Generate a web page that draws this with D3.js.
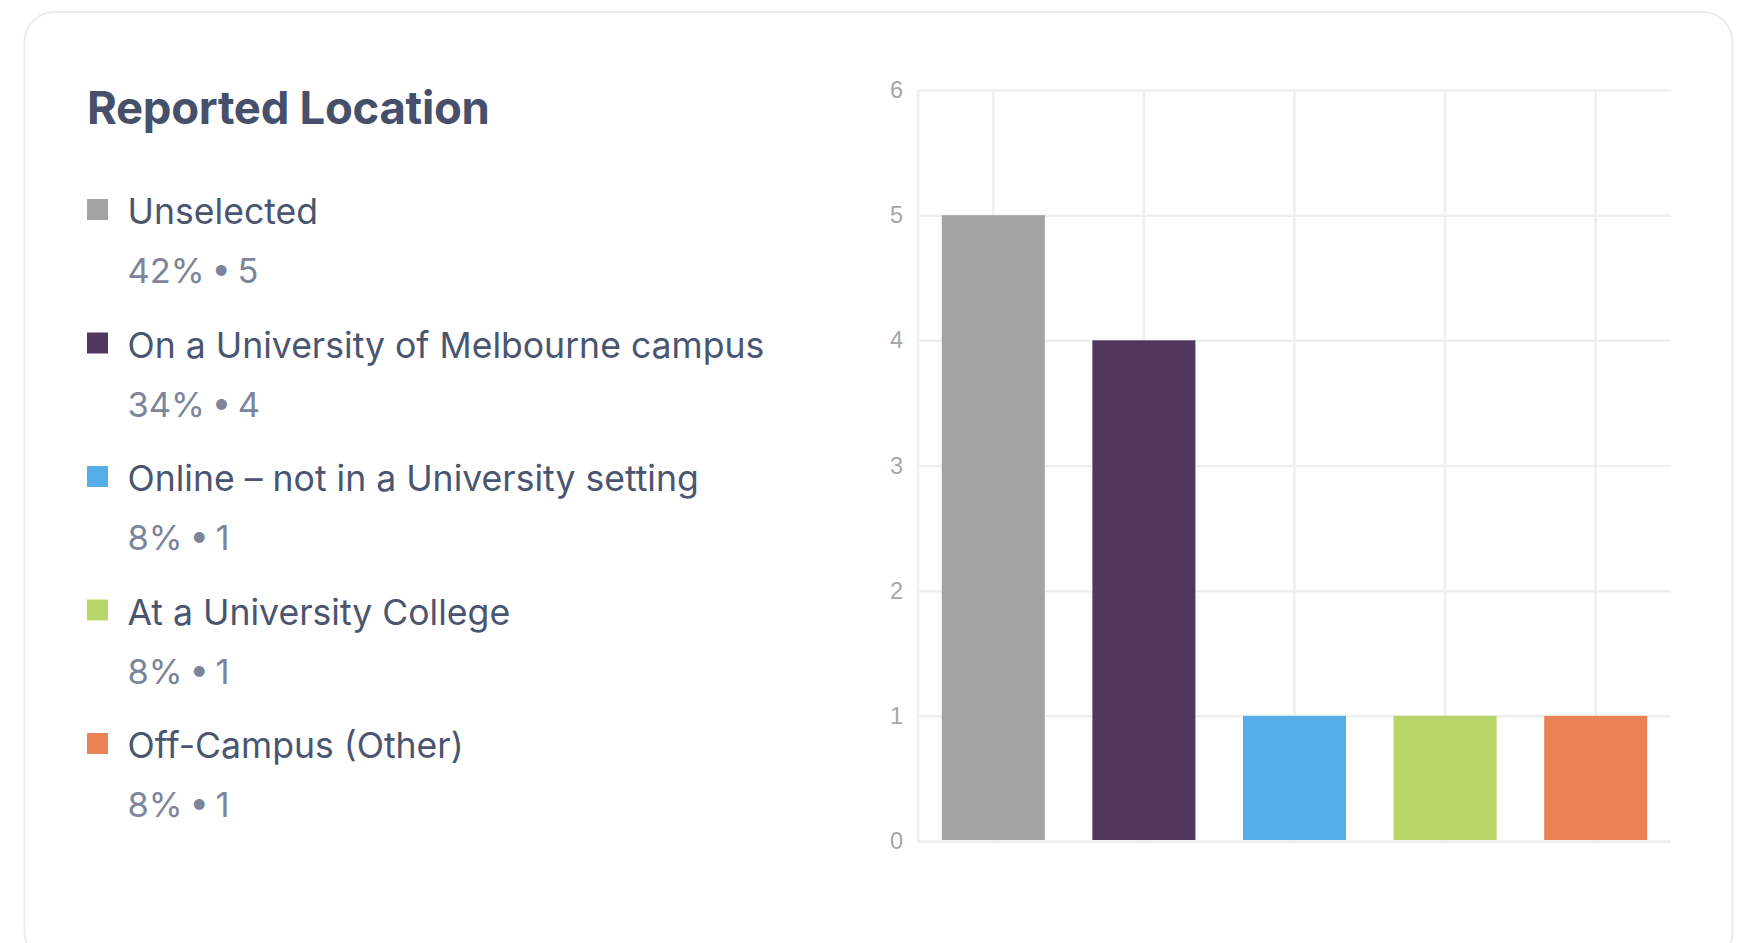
<!DOCTYPE html>
<html>
<head>
<meta charset="utf-8">
<script src="https://cdn.jsdelivr.net/npm/d3@7"></script>
<style>
  html, body { margin: 0; padding: 0; background: #ffffff; overflow: hidden; }
</style>
</head>
<body>
<div class="chart"></div>
<script>
// chart values
var categories = [
  "Unselected",
  "On a University of Melbourne campus",
  "Online – not in a University setting",
  "At a University College",
  "Off-Campus (Other)"
];
var counts = [5, 4, 1, 1, 1];
var percents = [42, 34, 8, 8, 8];
var barColors = ["#a3a3a3", "#51365e", "#55aee8", "#b9d468", "#ea8256"];
var yTicks = [0, 1, 2, 3, 4, 5, 6];
var title = "Reported Location";

var svgWidth = 1755;
var svgHeight = 943;

// plot area of the bar chart
var plot = {
  left: 918,
  right: 1671,
  top: 90,
  bottom: 841
};

var svg = d3
  .select(".chart")
  .append("svg")
  .attr("width", svgWidth)
  .attr("height", svgHeight);

// card
svg.append("rect")
  .attr("x", 24.5)
  .attr("y", 12)
  .attr("width", 1708)
  .attr("height", 950)
  .attr("rx", 30)
  .attr("fill", "#ffffff")
  .attr("stroke", "#ebebf0")
  .attr("stroke-width", 2);

// title
svg.append("text")
  .attr("x", 87)
  .attr("y", 124)
  .attr("font-family", "Inter")
  .attr("font-weight", 700)
  .attr("font-size", "45.5px")
  .attr("letter-spacing", "-0.3px")
  .attr("fill", "#46506a")
  .text(title);

// legend
var legend = svg.append("g")
  .attr("transform", "translate(87, 224)");

var rowStep = 133.5;

var rows = legend.selectAll(".legend-row")
  .data(categories)
  .enter()
  .append("g")
  .attr("class", "legend-row")
  .attr("transform", (d, i) => `translate(0, ${i * rowStep})`);

rows.append("rect")
  .attr("x", 0)
  .attr("y", -25)
  .attr("width", 21)
  .attr("height", 21)
  .attr("fill", (d, i) => barColors[i]);

rows.append("text")
  .attr("x", 40.5)
  .attr("y", 0)
  .attr("font-family", "Inter")
  .attr("font-size", "35.6px")
  .attr("fill", "#4a5570")
  .text(d => d);

rows.append("text")
  .attr("x", 40.5)
  .attr("y", 59)
  .attr("font-family", "Inter")
  .attr("font-size", "34.5px")
  .attr("word-spacing", "-3px")
  .attr("fill", "#7c8599")
  .text((d, i) => `${percents[i]}% • ${counts[i]}`);

// scales
var xBandScale = d3.scaleBand()
  .domain(categories)
  .range([plot.left, plot.right])
  .padding(0);

var yLinearScale = d3.scaleLinear()
  .domain([0, 6])
  .range([plot.bottom, plot.top]);

var gridColor = "#efefef";

// horizontal grid lines
var leftAxis = d3.axisLeft(yLinearScale)
  .tickValues(yTicks)
  .tickSize(-(plot.right - plot.left))
  .tickPadding(15)
  .tickFormat(d3.format("d"));

var yAxis = svg.append("g")
  .attr("transform", `translate(${plot.left}, 0)`)
  .call(leftAxis);

yAxis.select(".domain").remove();
yAxis.selectAll(".tick line")
  .attr("stroke", gridColor)
  .attr("stroke-width", 2.5);
yAxis.selectAll(".tick text")
  .attr("font-family", "Liberation Sans, Arial, sans-serif")
  .attr("font-size", "23.5px")
  .attr("fill", "#a6a6a6");

// vertical grid lines at category centres
var bottomAxis = d3.axisBottom(xBandScale)
  .tickSize(-(plot.bottom - plot.top))
  .tickFormat("");

var xAxis = svg.append("g")
  .attr("transform", `translate(0, ${plot.bottom})`)
  .call(bottomAxis);

xAxis.select(".domain").remove();
xAxis.selectAll(".tick line")
  .attr("stroke", gridColor)
  .attr("stroke-width", 2.5);

// axis lines
svg.append("line")
  .attr("x1", plot.left)
  .attr("x2", plot.left)
  .attr("y1", plot.top)
  .attr("y2", plot.bottom + 2)
  .attr("stroke", gridColor)
  .attr("stroke-width", 2.5);

// bars
var barShare = 0.684;
var barWidth = xBandScale.bandwidth() * barShare;

svg.append("g")
  .selectAll("rect")
  .data(categories)
  .enter()
  .append("rect")
  .attr("x", d => xBandScale(d) + (xBandScale.bandwidth() - barWidth) / 2)
  .attr("y", (d, i) => yLinearScale(counts[i]))
  .attr("width", barWidth)
  .attr("height", (d, i) => yLinearScale(0) - yLinearScale(counts[i]) - 1)
  .attr("fill", (d, i) => barColors[i]);

svg.append("line")
  .attr("x1", plot.left)
  .attr("x2", plot.right)
  .attr("y1", plot.bottom + 1)
  .attr("y2", plot.bottom + 1)
  .attr("stroke", gridColor)
  .attr("stroke-width", 2.5);
</script>
</body>
</html>
